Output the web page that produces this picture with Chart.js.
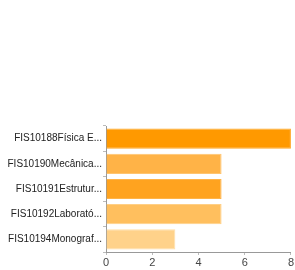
<!DOCTYPE html>
<html>
<head>
<meta charset="utf-8">
<script src="https://cdn.jsdelivr.net/npm/chart.js@4"></script>
<style>
  html, body { margin: 0; padding: 0; background: #fff; }
  #wrap { width: 295px; height: 270px; }
</style>
</head>
<body>
<div id="wrap"><canvas id="chart" width="295" height="270"></canvas></div>
<script>
// categorias e valores
const categories = [
    'FIS10188Física E...',
    'FIS10190Mecânica...',
    'FIS10191Estrutur...',
    'FIS10192Laborató...',
    'FIS10194Monograf...'
];
const values = [8, 5, 5, 5, 3];
const xTicks = [0, 2, 4, 6, 8];

const fills = ['#ff9900', '#ffb347', '#ffa31f', '#ffbf5e', '#ffd28a'];
const borders = ['#ffa726', '#ffc46e', '#ffb347', '#ffcf85', '#ffdfa8'];

const ctx = document.getElementById('chart').getContext('2d');
new Chart(ctx, {
    type: 'bar',
    data: {
        labels: categories,
        datasets: [{
            data: values,
            backgroundColor: fills,
            borderColor: borders,
            borderWidth: 1,
            barPercentage: 0.8,
            categoryPercentage: 1
        }]
    },
    options: {
        indexAxis: 'y',
        responsive: false,
        animation: false,
        layout: { padding: { top: 126, right: 4, left: 0, bottom: 0 } },
        plugins: { legend: { display: false }, tooltip: { enabled: false } },
        scales: {
            x: {
                min: 0,
                max: 8,
                afterBuildTicks: s => { s.ticks = xTicks.map(v => ({ value: v })); },
                afterFit: s => { s.height = 18; },
                grid: { drawOnChartArea: false, tickLength: 3, color: '#bbb' },
                border: { color: '#999' },
                ticks: { color: '#444', padding: 1, font: { family: 'Liberation Sans', size: 11 } }
            },
            y: {
                afterFit: s => { s.width = 106; },
                grid: { drawOnChartArea: false, tickLength: 3, color: '#bbb' },
                border: { color: '#999' },
                ticks: { color: '#222', padding: 1, font: { family: 'Liberation Sans', size: 10 } }
            }
        }
    }
});
</script>
</body>
</html>
